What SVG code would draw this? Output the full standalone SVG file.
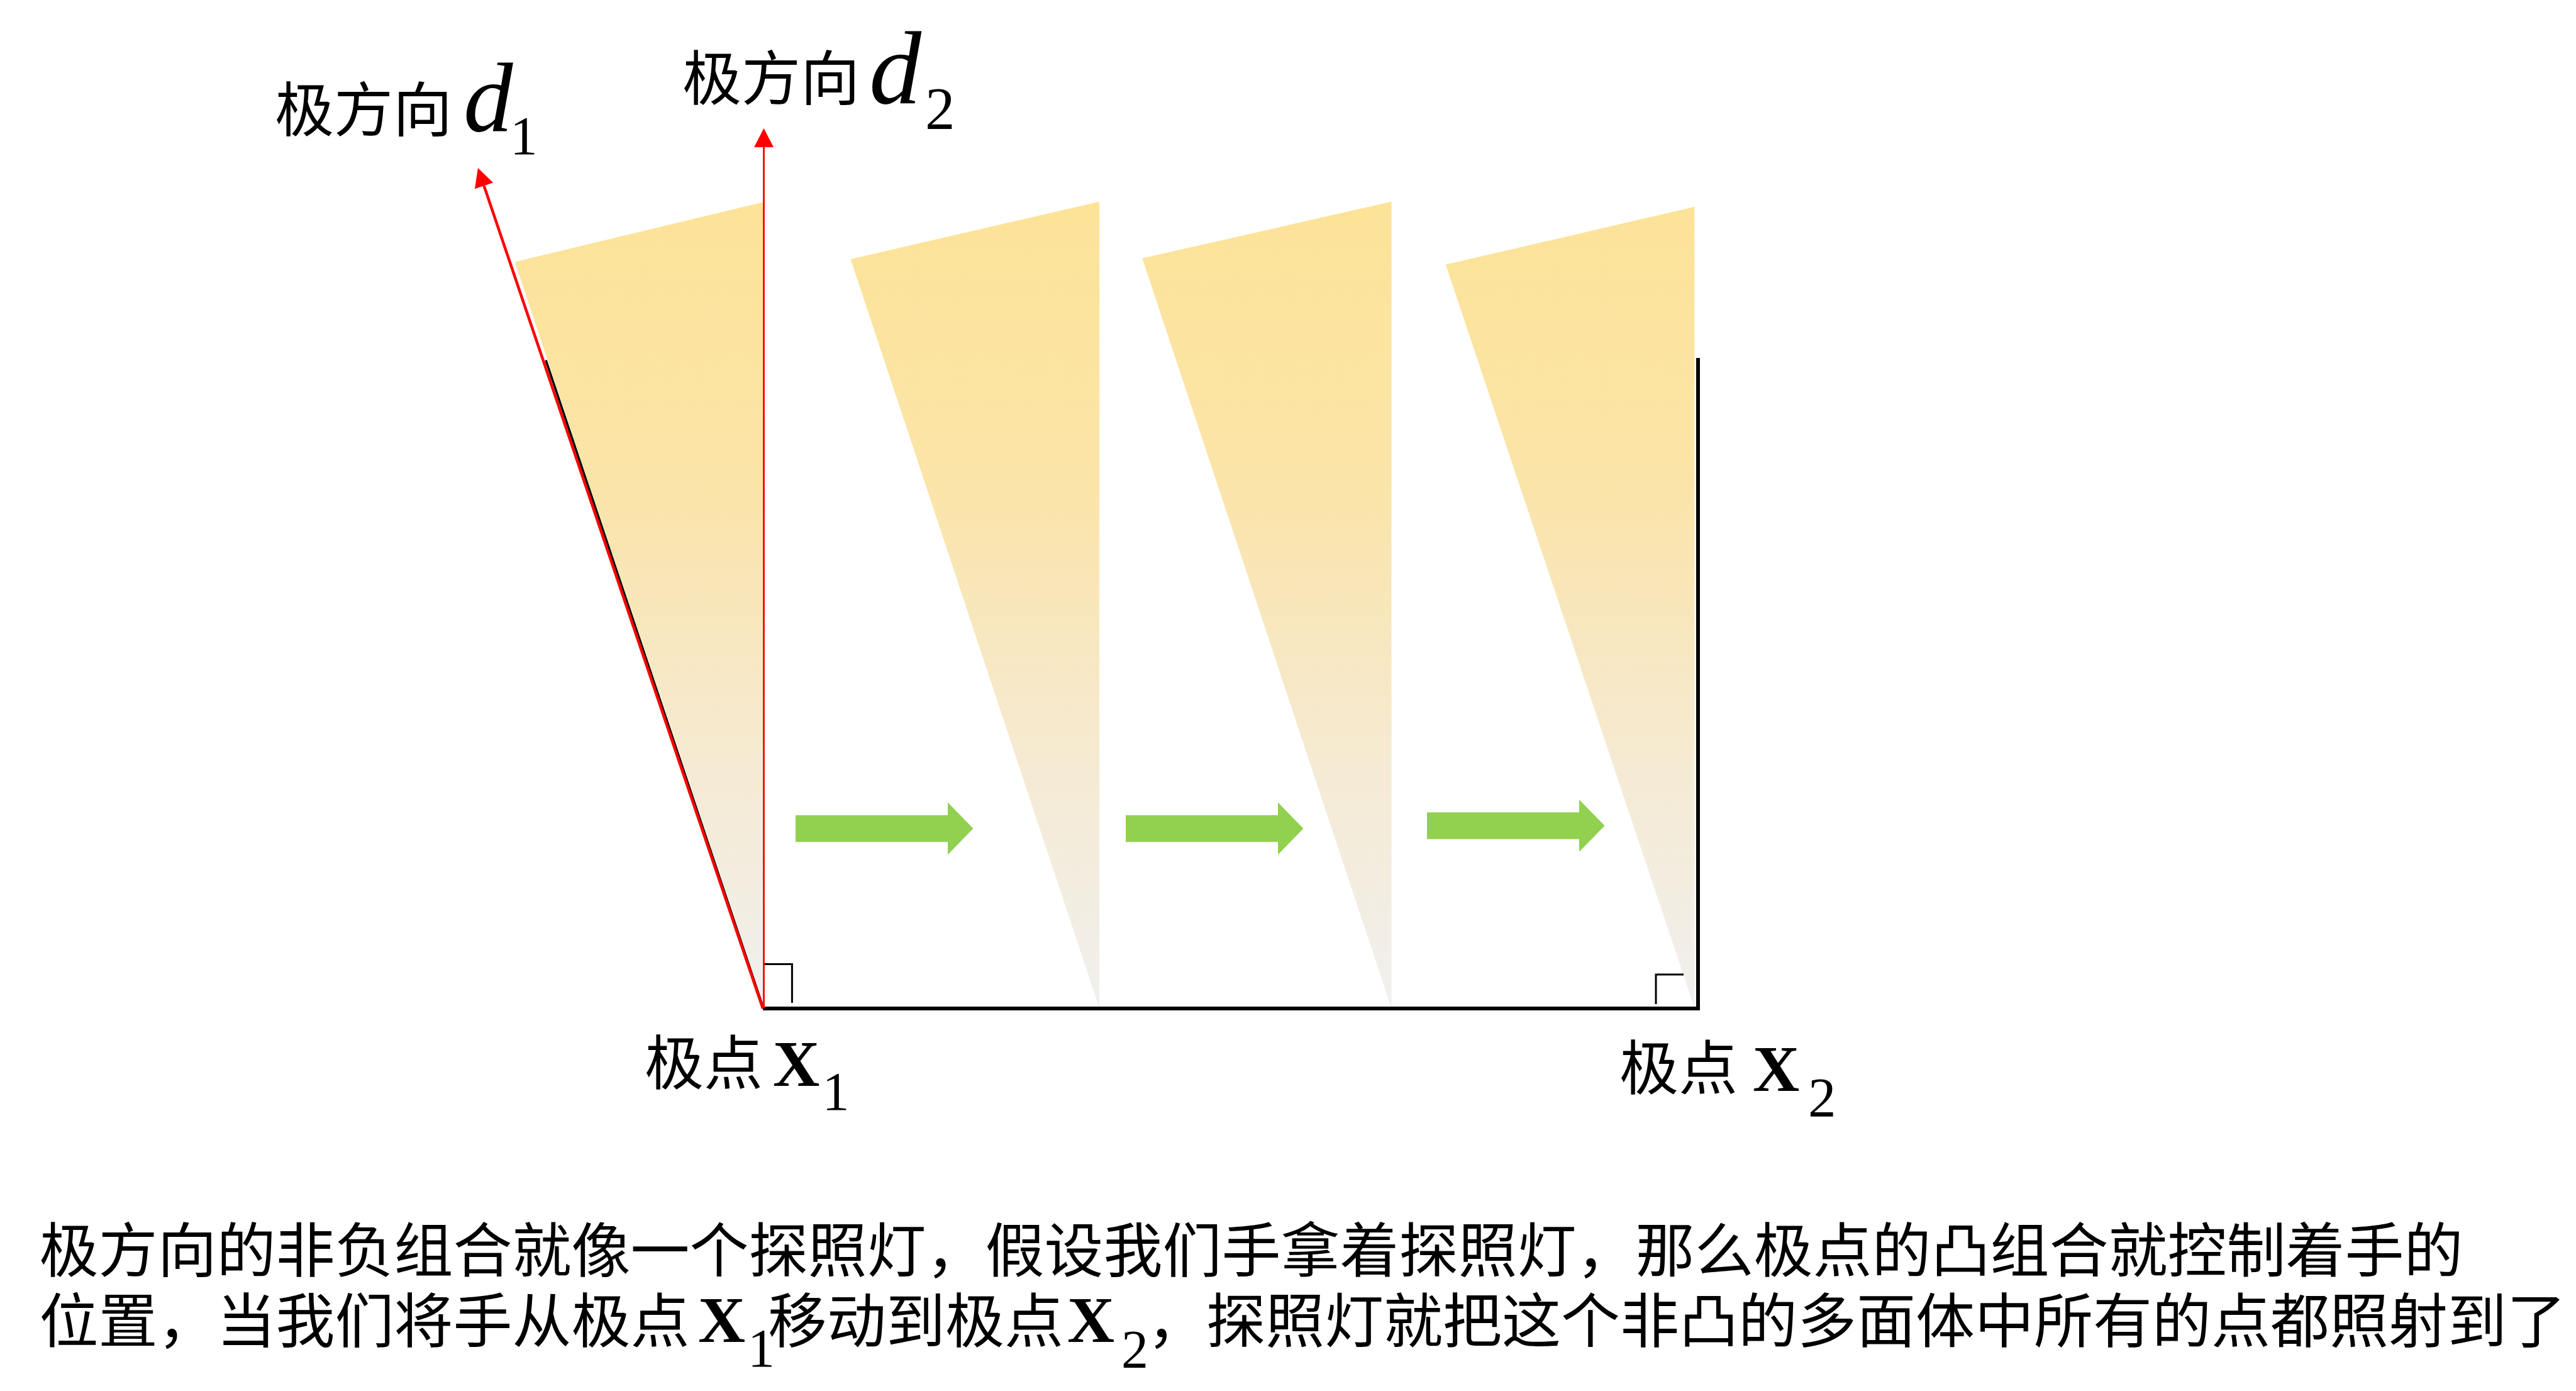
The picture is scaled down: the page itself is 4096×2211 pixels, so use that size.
<svg xmlns="http://www.w3.org/2000/svg" width="4096" height="2211" viewBox="0 0 4096 2211">
<defs>
<style>
.cjk{font-family:"Noto Sans CJK SC","Noto Sans CJK JP",sans-serif;font-size:94px;fill:#000}
.it{font-family:"Liberation Serif",serif;font-style:italic;fill:#000}
.rm{font-family:"Liberation Serif",serif;fill:#000}
.bd{font-family:"Liberation Serif",serif;font-weight:bold;fill:#000}
.beam{fill:url(#beamGrad)}
.red{stroke:#FF0000;fill:none}
.edge{stroke:#000;fill:none}
.green{fill:#92D050}
</style>
<linearGradient id="beamGrad" gradientUnits="userSpaceOnUse" x1="0" y1="321" x2="0" y2="1603">
<stop offset="0" stop-color="#FDE398"/>
<stop offset="0.35" stop-color="#FBE4A8"/>
<stop offset="0.7" stop-color="#F5EAD3"/>
<stop offset="1" stop-color="#F1F0EE"/>
</linearGradient>
<marker id="redHead" markerUnits="userSpaceOnUse" markerWidth="30" markerHeight="31" viewBox="0 0 30 31" refX="0" refY="15.5" orient="auto"><path d="M0,0 L30,15.5 L0,31 z" fill="#FF0000"/></marker>
<path id="greenArrow" d="M0,-21.25 H242 V-41.5 L282.5,0 L242,41.5 V21.25 H0 Z"/>
</defs>
<rect width="4096" height="2211" fill="#FFFFFF"/>

<g id="beams">
<polygon id="beam1" class="beam" points="818.75,416.25 1213.75,321.25 1213.75,1602.5 1213,1603"/>
<polygon id="beam2" class="beam" points="1352.5,411.9 1748.1,320.6 1748.1,1602.5"/>
<polygon id="beam3" class="beam" points="1816.25,410.6 2212.5,320.6 2212.5,1602.5"/>
<polygon id="beam4" class="beam" points="2298.75,420.6 2694.4,328.75 2694.4,1602.5"/>
</g>

<g id="polyhedron">
<line class="edge" x1="868" y1="572.5" x2="1214" y2="1603" stroke-width="3.5"/>
<polyline class="edge" points="1213,1603 2700,1603 2700,569" stroke-width="6"/>
</g>

<g id="right-angles">
<polyline class="edge" points="1215,1532.5 1259.4,1532.5 1259.4,1594" stroke-width="3"/>
<polyline class="edge" points="2633,1596 2633,1549 2677,1549" stroke-width="3"/>
</g>

<g id="connectors">
<line id="dir-d1" class="red" x1="1213" y1="1603" x2="769.6" y2="295.4" stroke-width="4.5" marker-end="url(#redHead)"/>
<line id="dir-d2" class="red" x1="1214.5" y1="1603" x2="1214.5" y2="234" stroke-width="2.8" marker-end="url(#redHead)"/>
</g>

<g id="move-arrows">
<use id="arrow1" href="#greenArrow" class="green" transform="translate(1265,1316.9)"/>
<use id="arrow2" href="#greenArrow" class="green" transform="translate(1790,1316.9)"/>
<use id="arrow3" href="#greenArrow" class="green" transform="translate(2269,1312.5)"/>
</g>

<g id="label-d1">
<text class="cjk" x="437" y="209">极方向</text>
<text class="it" x="737" y="208" font-size="157">d</text>
<text class="rm" x="811" y="245" font-size="87.5">1</text>
</g>

<g id="label-d2">
<text class="cjk" x="1085" y="159">极方向</text>
<text class="it" x="1382" y="164" font-size="166">d</text>
<text class="rm" x="1471" y="205" font-size="95">2</text>
</g>

<g id="label-x1">
<text class="cjk" x="1025" y="1724">极点</text>
<text class="bd" x="1229" y="1726" font-size="103">X</text>
<text class="rm" x="1307.5" y="1764" font-size="86">1</text>
</g>

<g id="label-x2">
<text class="cjk" x="2575" y="1732">极点</text>
<text class="bd" x="2787" y="1734" font-size="103">X</text>
<text class="rm" x="2875" y="1774" font-size="89">2</text>
</g>

<g id="caption">
<text class="cjk" x="62.5" y="2022" font-size="93.75">极方向的非负组合就像一个探照灯，假设我们手拿着探照灯，那么极点的凸组合就控制着手的</text>
<text class="cjk" font-size="93.75"><tspan x="62.5" y="2134">位置，当我们将手从极点</tspan><tspan class="bd" x="1110" y="2133" font-size="104">X</tspan><tspan class="rm" x="1189" y="2172" font-size="86">1</tspan><tspan x="1221" y="2134">移动到极点</tspan><tspan class="bd" x="1697" y="2133" font-size="104">X</tspan><tspan class="rm" x="1783" y="2174" font-size="86">2</tspan><tspan x="1824" y="2134">，探照灯就把这个非凸的多面体中所有的点都照射到了</tspan></text>
</g>
</svg>
